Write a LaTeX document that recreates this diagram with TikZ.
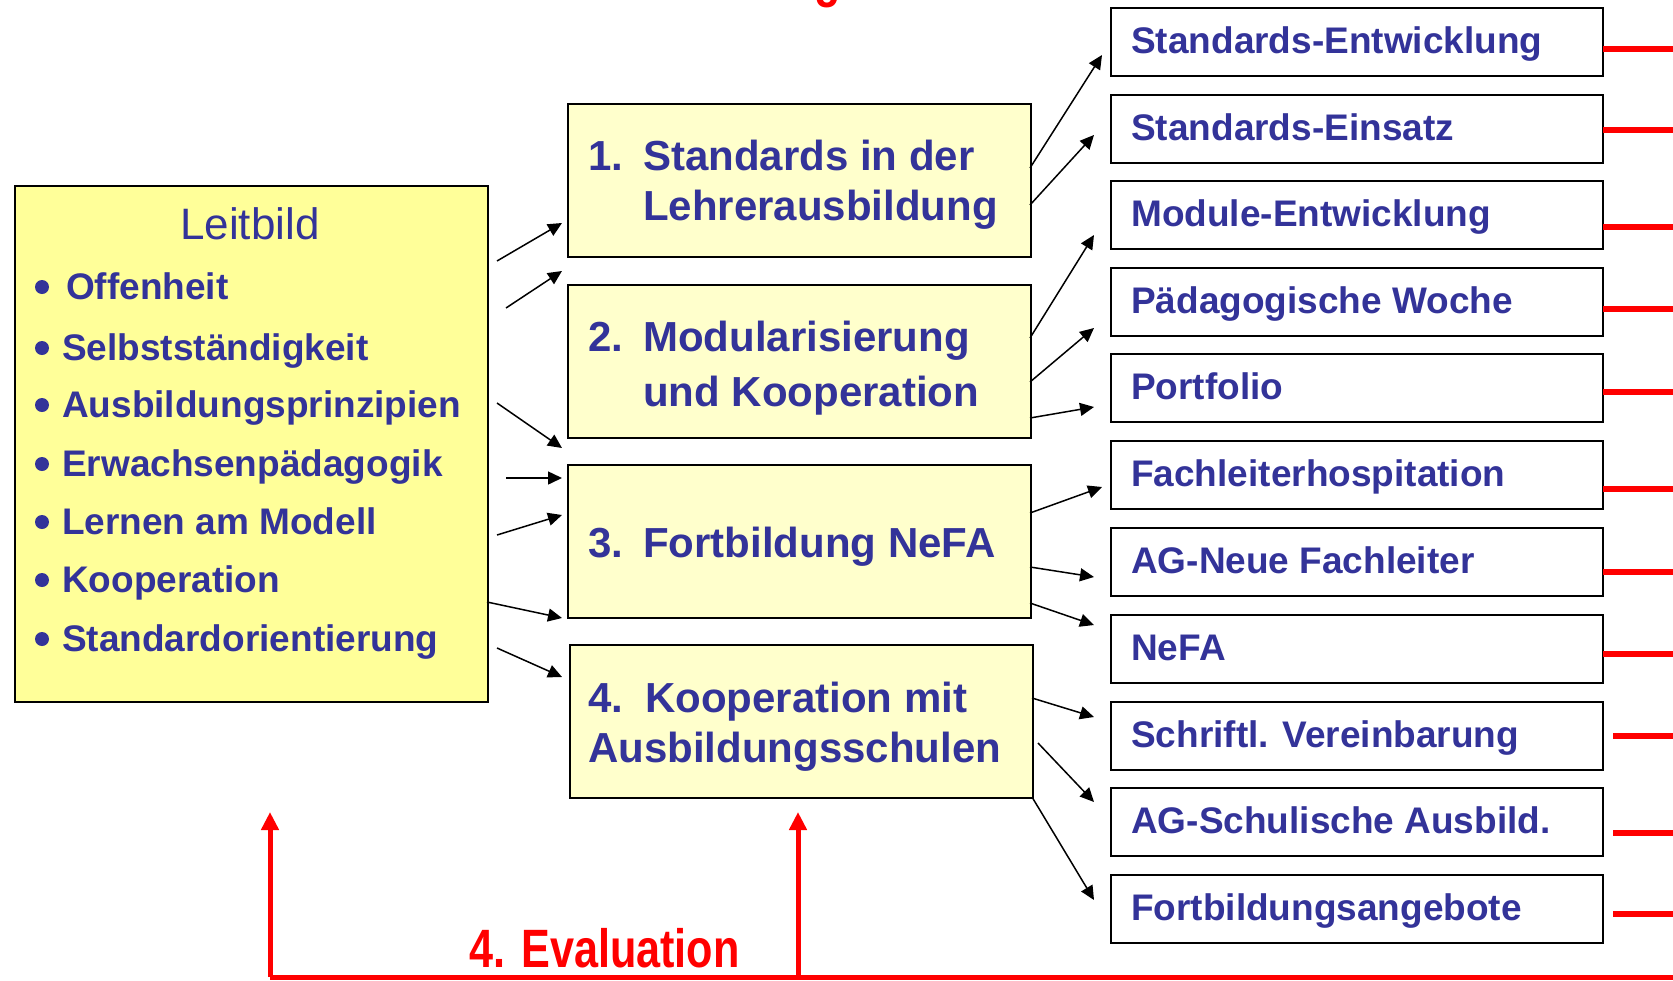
\documentclass[tikz,border=0pt]{standalone}
\usepackage{fontspec}
\setmainfont{Liberation Sans}
\newfontfamily\narrowfont[FakeStretch=0.8]{Liberation Sans}
\usetikzlibrary{arrows.meta}
\definecolor{txtblue}{HTML}{333399}
\definecolor{leitfill}{HTML}{FFFF99}
\definecolor{stepfill}{HTML}{FFFFCC}
\definecolor{evalred}{HTML}{FF0000}
\begin{document}
\begin{tikzpicture}[x=1pt,y=-1pt,
  leitbox/.style={draw=black, line width=2pt, fill=leitfill, anchor=north west, inner sep=0pt, minimum width=473pt, minimum height=516pt},
  stepbox/.style={draw=black, line width=2pt, fill=stepfill, anchor=north west, inner sep=0pt, minimum width=463pt, minimum height=153pt},
  itembox/.style={draw=black, line width=1.8pt, fill=white, anchor=north west, inner sep=0pt, minimum width=492pt, minimum height=68pt},
  steptext/.style={anchor=base west, inner sep=0pt, text=txtblue, font=\fontsize{42}{50}\bfseries\selectfont},
  itemtext/.style={anchor=base west, inner sep=0pt, text=txtblue, font=\fontsize{37}{44}\bfseries\selectfont},
  bullettext/.style={anchor=base west, inner sep=0pt, text=txtblue, font=\fontsize{37}{44}\bfseries\selectfont},
  bulletdot/.style={circle, fill=txtblue, inner sep=0pt, minimum size=14pt},
  redtext/.style={anchor=base west, inner sep=0pt, text=evalred, font=\narrowfont\fontsize{54}{60}\bfseries\selectfont},
  conn/.style={line width=1.5pt, -{Triangle[length=14pt,width=13pt]}},
  redline/.style={draw=evalred, line width=6pt},
  redbase/.style={draw=evalred, line width=5pt},
  redarrow/.style={draw=evalred, line width=5pt, -{Triangle[length=18pt,width=17pt]}},
]
\clip (0,0) rectangle (1673,980);
\useasboundingbox (0,0) rectangle (1673,980);

% partially visible red title
\node[redtext] (topg) at (814,-4) {g};

% Leitbild box
\node[leitbox] (leit) at (14,185) {};
\node[anchor=base, inner sep=0pt, text=txtblue, font=\fontsize{44}{52}\selectfont] (leittitle) at (250,239) {Leitbild};
\node[bulletdot] (d1) at (42,287) {};
\node[bullettext] (t1) at (66,299) {Offenheit};
\node[bulletdot] (d2) at (42,348) {};
\node[bullettext] (t2) at (62,360) {Selbstst\"andigkeit};
\node[bulletdot] (d3) at (42,405) {};
\node[bullettext] (t3) at (62,417) {Ausbildungsprinzipien};
\node[bulletdot] (d4) at (42,464) {};
\node[bullettext] (t4) at (62,476) {Erwachsenp\"adagogik};
\node[bulletdot] (d5) at (42,522) {};
\node[bullettext] (t5) at (62,534) {Lernen am Modell};
\node[bulletdot] (d6) at (42,580) {};
\node[bullettext] (t6) at (62,592) {Kooperation};
\node[bulletdot] (d7) at (42,639) {};
\node[bullettext] (t7) at (62,651) {Standardorientierung};

% step boxes
\node[stepbox] (s1) at (567,103) {};
\node[steptext] (s1n) at (588,170) {1.};
\node[steptext] (s1a) at (643,170) {Standards in der};
\node[steptext] (s1b) at (643,220) {Lehrerausbildung};

\node[stepbox] (s2) at (567,284) {};
\node[steptext] (s2n) at (588,351) {2.};
\node[steptext] (s2a) at (643,351) {Modularisierung};
\node[steptext] (s2b) at (643,406) {und Kooperation};

\node[stepbox] (s3) at (567,464) {};
\node[steptext] (s3n) at (588,557) {3.};
\node[steptext] (s3a) at (643,557) {Fortbildung NeFA};

\node[stepbox] (s4) at (569,644) {};
\node[steptext] (s4n) at (588,712) {4.};
\node[steptext] (s4a) at (645,712) {Kooperation mit};
\node[steptext] (s4b) at (588,762) {Ausbildungsschulen};

% item boxes
\foreach \i/\top/\txt in {1/7/Standards-Entwicklung, 2/94/Standards-Einsatz, 3/180/Module-Entwicklung, 4/267/P\"adagogische Woche, 5/353/Portfolio, 6/440/Fachleiterhospitation, 7/527/AG-Neue Fachleiter, 8/614/NeFA, 9/701/Schriftl. Vereinbarung, 10/787/AG-Schulische Ausbild., 11/874/Fortbildungsangebote}{
  \node[itembox] (r\i) at (1110,\top) {};
  \node[itemtext] (rt\i) at (1131,\top+46) {\txt};
}

% left arrows
\coordinate (la1s) at (497,261); \coordinate (la1e) at (562,223);
\coordinate (la2s) at (506,308); \coordinate (la2e) at (562,271);
\coordinate (la3s) at (497,403); \coordinate (la3e) at (562,448);
\coordinate (la4s) at (506,478); \coordinate (la4e) at (562,478);
\coordinate (la5s) at (497,535); \coordinate (la5e) at (562,515);
\coordinate (la6s) at (487,602); \coordinate (la6e) at (562,618);
\coordinate (la7s) at (497,648); \coordinate (la7e) at (562,677);
\foreach \k in {1,...,7}{\draw[conn] (la\k s) -- (la\k e);}

% right arrows
\coordinate (ra1s) at (1030,168); \coordinate (ra1e) at (1102,55);
\coordinate (ra2s) at (1030,205); \coordinate (ra2e) at (1094,135);
\coordinate (ra3s) at (1030,338); \coordinate (ra3e) at (1094,235);
\coordinate (ra4s) at (1030,382); \coordinate (ra4e) at (1094,328);
\coordinate (ra5s) at (1030,418); \coordinate (ra5e) at (1094,407);
\coordinate (ra6s) at (1030,513); \coordinate (ra6e) at (1102,487);
\coordinate (ra7s) at (1030,567); \coordinate (ra7e) at (1094,577);
\coordinate (ra8s) at (1030,603); \coordinate (ra8e) at (1094,625);
\coordinate (ra9s) at (1032,698); \coordinate (ra9e) at (1094,717);
\coordinate (ra10s) at (1038,743); \coordinate (ra10e) at (1094,802);
\coordinate (ra11s) at (1032,797); \coordinate (ra11e) at (1094,900);
\foreach \k in {1,...,11}{\draw[conn] (ra\k s) -- (ra\k e);}

% red lines on the right
\foreach \k/\xs/\yy in {1/1603/49, 2/1603/130, 3/1603/227, 4/1603/309, 5/1603/392, 6/1603/489, 7/1603/572, 8/1603/654, 9/1613/736, 10/1613/833, 11/1613/914}{
  \coordinate (rl\k s) at (\xs,\yy);
  \coordinate (rl\k e) at (1673,\yy);
  \draw[redline] (rl\k s) -- (rl\k e);
}

% evaluation feedback
\coordinate (evL) at (270,977);
\coordinate (evM) at (798,977);
\coordinate (evR) at (1673,977);
\coordinate (evLt) at (270,812);
\coordinate (evMt) at (798,812);
\draw[redbase] (evL) -- (evR);
\draw[redarrow] (evL) -- (evLt);
\draw[redarrow] (evM) -- (evMt);
\node[redtext] (evaltext) at (469,967) {4. Evaluation};
\end{tikzpicture}
\end{document}
